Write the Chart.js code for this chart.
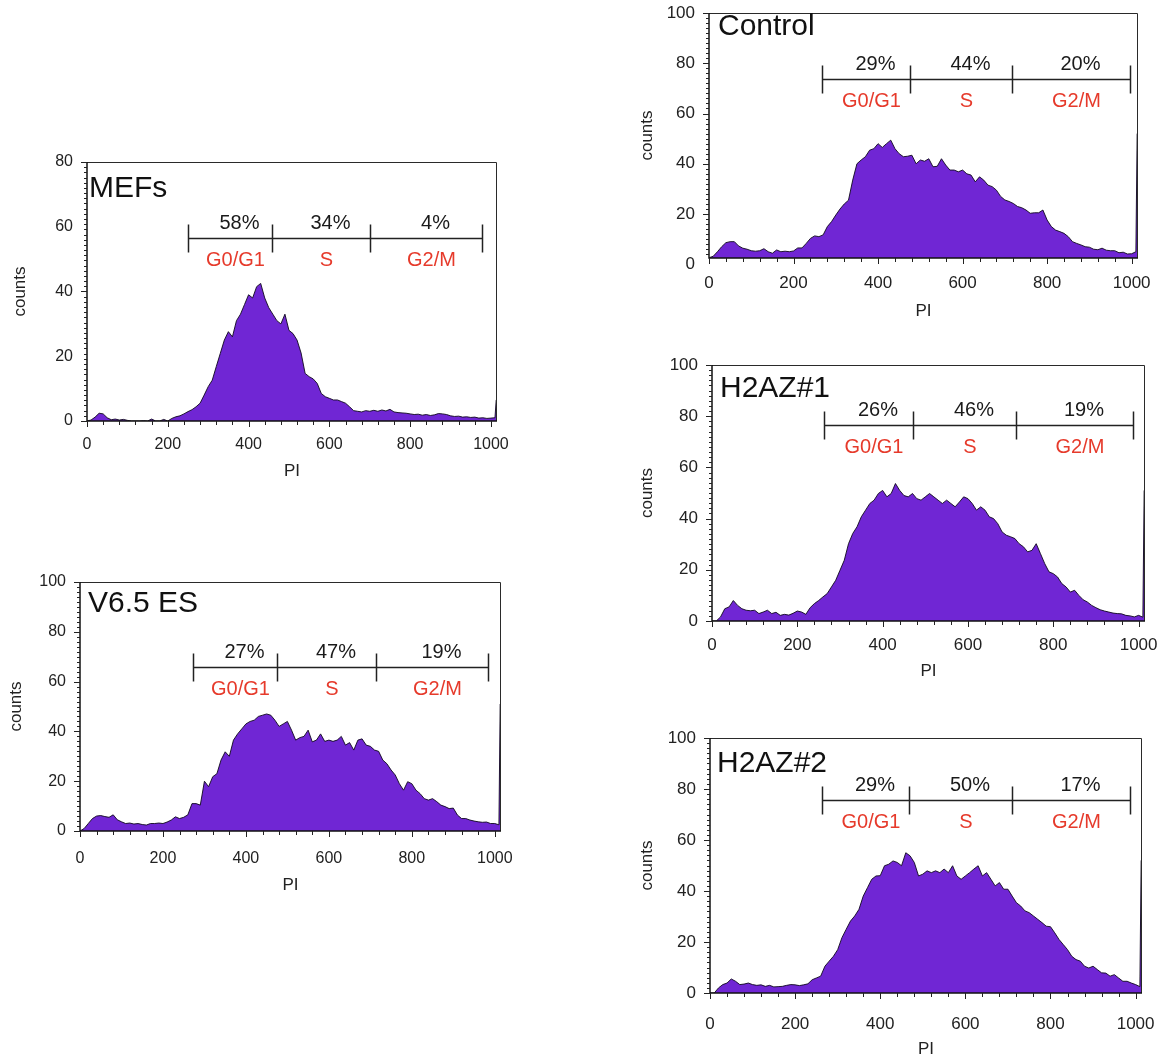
<!DOCTYPE html>
<html>
<head>
<meta charset="utf-8">
<script src="https://cdn.jsdelivr.net/npm/chart.js@4.4.1/dist/chart.umd.min.js"></script>
<style>
  html, body { margin: 0; padding: 0; background: #fff; overflow: hidden; }
  body { width: 1159px; height: 1057px; position: relative; }
  canvas { position: absolute; }
</style>
</head>
<body>
<script>
// ---------- DATA ----------
const BIN = 10;          // counts read every 10 PI channels, starting at channel 0
const CH_MAX = 1015;     // right end of the PI axis
const SPIKE_CH = 1013;   // last channel pile-up
const PHASES = ['G0/G1', 'S', 'G2/M'];
const X_TICKS = [0, 200, 400, 600, 800, 1000];
const Y_TICKS_80 = [0, 20, 40, 60, 80];
const Y_TICKS_100 = [0, 20, 40, 60, 80, 100];

const MEFS_COUNTS = [0,0.3,1.2,2.4,2.2,1.0,0.4,0.6,0.3,0.5,0.2,0,0,0,0.1,0,0.6,0,0,0.5,
  0,0.8,1.3,1.6,2.2,2.9,3.5,4.4,5.5,8,10.6,12.6,16.8,20.9,25,27.6,26,31,33,36,
  39,38,41.5,42.5,38,35,33,31,30,33,28,27,25,21,14.7,13.7,13,11.6,8.5,7.5,
  7,6.5,6.5,6,5.5,4.4,3.2,3,2.8,3.2,3,3.3,3,3.4,3.1,3.6,2.8,2.6,2.5,2.4,
  2.2,2,2.1,1.8,2,1.7,1.9,2.3,2.2,2,1.6,1.4,1.5,1.2,1.3,1.1,1.2,0.9,1,0.8,0.9,1];
const MEFS_SPIKE = 6.5;
const MEFS_PCT = ['58%', '34%', '4%'];
const MEFS_GATES = [249, 457, 700, 979];
const MEFS_BRACKET = 56.6;

const V65_COUNTS = [0,1,3,5,6,6.2,5.8,5.5,6.5,4.5,3.7,3,3.2,2.8,3,2.6,2.4,3,3,3.2,
  3,3.6,4.4,5.7,5,5.5,6.5,11,11,10.4,20,17.8,21.8,23,28.5,31.8,30,36.5,39,41,
  43,44,44.5,46,46.5,47,46.5,44.5,42,43,44,40.5,36.5,37.5,38,40.5,35.8,36.5,39,36,
  36.5,36,36.5,38,34.5,35.5,32.5,36.5,37,34.5,34,32.5,32,28.5,27,24.5,22.5,19,16.4,19.8,
  19,16.4,15,13,12.4,13,11.8,10.4,9.8,9,9.2,6.4,5,5,4.4,4,3.7,3.5,3.6,3,3,2.5];
const V65_SPIKE = 51;
const V65_PCT = ['27%', '47%', '19%'];
const V65_GATES = [272, 474, 714, 984];
const V65_BRACKET = 66;

const CTRL_COUNTS = [2.6,3.2,5,7,8.6,9,9,7.3,6.4,6,5.4,5.2,5.4,6.2,5,4.4,5.7,5,5.2,5,
  5.3,6.5,6.5,8.3,10.3,11.3,11,11.7,15,17,19.6,22,24,25.5,33.5,40,41.5,42.8,45.4,46,
  48,46.5,48,49.4,46,44,42.8,43,43.4,40,41.5,41,42,38.8,39,42,39.5,37.5,37.5,36.8,
  37.5,36,35.5,32.8,34.8,33.5,31.5,30.9,29.5,27,25.6,25,24.2,23,22.5,21.6,20.3,20.5,20.5,21.6,
  17.6,15,13.6,13,12.3,11,9,8.3,7.7,7,6.8,6,5.8,6.4,5.6,5.4,5.4,4.6,4.8,4.1,4.2,5];
const CTRL_SPIKE = 52;
const CTRL_PCT = ['29%', '44%', '20%'];
const CTRL_GATES = [267, 475, 718, 996];
const CTRL_BRACKET = 73.9;

const H1_COUNTS = [0,0,1.6,4.8,5.5,8,6.1,4.8,4.2,4,4.2,2.9,3.5,4.2,2.9,3.4,2.2,2.6,2.3,3,
  3.9,3.5,2.6,5.2,6.8,8,9.4,10.7,13.3,15.9,19.8,23.7,30.2,34.2,36.8,40.7,43.3,45.9,47.2,49.8,
  51,48.5,49.8,53.7,51,49,48.5,49.8,47.8,47.2,48.5,49.8,48.5,47.2,45.9,47.2,45.9,44.6,46.5,48.5,
  47.8,45.9,43.3,44.6,43.3,40.7,40,38,34.8,33.5,32.9,32.2,30.2,29,27,27.6,30.2,26.3,22.4,19.2,
  18.5,17.2,14.6,13.3,11.3,12,10,8.3,7.4,6.1,5.2,4.4,3.9,3.5,3.1,2.9,2.8,2.2,2,1.6,2.2,1.5];
const H1_SPIKE = 51;
const H1_PCT = ['26%', '46%', '19%'];
const H1_GATES = [263, 470, 712, 986];
const H1_BRACKET = 76.6;

const H2_COUNTS = [0,0,2,3.3,3.9,5.5,4.6,3.3,3.5,3.9,3.3,3,3.2,2.6,3,2.4,2.5,2.6,3,3.3,
  3.2,2.9,3.2,3.6,5.2,5.9,6.6,10.5,12.5,14.4,17,21.7,25,28.2,30.2,32.8,38,41.3,44.6,45.9,
  46,49.9,50.5,51.8,51.2,49.9,55,53.8,51.2,45.9,46.6,47.9,47.2,47.9,47.2,48.6,47.2,49.9,45.9,44.6,
  45.9,47.2,48.6,49.9,45.9,47.2,44.6,42,43.3,40.7,40.7,38,35.4,34.1,32.2,31.5,30.2,28.9,27.6,26.2,
  26,23.6,21,19,17,14.4,13.1,12.5,10.5,9.8,10.5,9.2,7.9,7.8,6.6,7.2,5.9,4.6,4.6,3.9,3.3,2.5];
const H2_SPIKE = 52;
const H2_PCT = ['29%', '50%', '17%'];
const H2_GATES = [262, 468, 710, 987];
const H2_BRACKET = 75.7;

// ---------- LAYOUT / STYLE ----------
const FONT = '"Liberation Sans", Arial, Helvetica, sans-serif';
const FILL = 'rgb(112,38,212)';
const RED = '#e63a2b';

const PANELS = [
  { name: 'MEFs', counts: MEFS_COUNTS, spike: MEFS_SPIKE, pct: MEFS_PCT, gates: MEFS_GATES, bracket: MEFS_BRACKET,
    yMin: 0, yMax: 80, yTicks: Y_TICKS_80, yMinor: 1.6,
    L: 87, T: 162, R: 497, B: 421, countsX: 20, piY: 472, xTl: 14, tickSize: 16, padTop: 15, titleDx: 2, titleDy: 35 },
  { name: 'V6.5 ES', counts: V65_COUNTS, spike: V65_SPIKE, pct: V65_PCT, gates: V65_GATES, bracket: V65_BRACKET,
    yMin: 0, yMax: 100, yTicks: Y_TICKS_100, yMinor: 2,
    L: 80, T: 582, R: 501, B: 831, countsX: 16, piY: 886, xTl: 18, tickSize: 16, padTop: 15, titleDx: 8, titleDy: 30 },
  { name: 'Control', counts: CTRL_COUNTS, spike: CTRL_SPIKE, pct: CTRL_PCT, gates: CTRL_GATES, bracket: CTRL_BRACKET,
    yMin: 2.5, yMax: 100, yTicks: Y_TICKS_100, yMinor: 2,
    L: 709, T: 13, R: 1138, B: 258, countsX: 647, piY: 312, xTl: 15, tickSize: 17, padTop: 13, titleDx: 9, titleDy: 22 },
  { name: 'H2AZ#1', counts: H1_COUNTS, spike: H1_SPIKE, pct: H1_PCT, gates: H1_GATES, bracket: H1_BRACKET,
    yMin: 0, yMax: 100, yTicks: Y_TICKS_100, yMinor: 2,
    L: 712, T: 365, R: 1145, B: 621, countsX: 647, piY: 672, xTl: 14, tickSize: 17, padTop: 15, titleDx: 8, titleDy: 32 },
  { name: 'H2AZ#2', counts: H2_COUNTS, spike: H2_SPIKE, pct: H2_PCT, gates: H2_GATES, bracket: H2_BRACKET,
    yMin: 0, yMax: 100, yTicks: Y_TICKS_100, yMinor: 2,
    L: 710, T: 738, R: 1142, B: 993, countsX: 647, piY: 1050, xTl: 21, tickSize: 17, padTop: 15, titleDx: 7, titleDy: 34 }
];

// ---------- decoration plugin (box, minor ticks, panel name, gate brackets) ----------
const deco = {
  id: 'deco',
  afterDraw(chart, args, o) {
    const { ctx, chartArea: a, scales: { x, y } } = chart;
    ctx.save();
    // frame
    ctx.strokeStyle = '#2a2a2a';
    ctx.lineWidth = 1;
    ctx.beginPath();
    ctx.moveTo(a.left, a.top + 0.5); ctx.lineTo(a.right - 0.5, a.top + 0.5); ctx.lineTo(a.right - 0.5, a.bottom);
    ctx.stroke();
    ctx.strokeStyle = '#111';
    ctx.lineWidth = 1.5;
    ctx.beginPath();
    ctx.moveTo(a.left, a.top); ctx.lineTo(a.left, a.bottom); ctx.lineTo(a.right, a.bottom);
    ctx.stroke();
    // y ticks
    ctx.lineWidth = 1;
    ctx.strokeStyle = '#222';
    ctx.beginPath();
    const y0 = Math.ceil(y.min / o.yMinor - 1e-6) * o.yMinor;
    for (let v = y0; v <= y.max + 1e-6; v += o.yMinor) {
      const py = Math.round(y.getPixelForValue(v)) + 0.5;
      const major = Math.abs(v / 20 - Math.round(v / 20)) < 1e-6;
      const len = major ? 6 : 3;
      ctx.moveTo(a.left - len, py); ctx.lineTo(a.left, py);
    }
    // x ticks
    for (let v = 0; v <= x.max; v += 40) {
      const px = Math.round(x.getPixelForValue(v)) + 0.5;
      const len = v % 200 === 0 ? 6 : 4;
      ctx.moveTo(px, a.bottom); ctx.lineTo(px, a.bottom + len);
    }
    ctx.stroke();
    // panel name
    ctx.fillStyle = '#111';
    ctx.font = '30px ' + FONT;
    ctx.textAlign = 'left';
    ctx.textBaseline = 'alphabetic';
    ctx.fillText(o.name, a.left + o.titleDx, a.top + o.titleDy);
    // gate bracket
    const yb = Math.round(y.getPixelForValue(o.bracket)) + 0.5;
    const xs = o.gates.map(g => Math.round(x.getPixelForValue(g)) + 0.5);
    ctx.strokeStyle = '#222';
    ctx.lineWidth = 1.5;
    ctx.beginPath();
    ctx.moveTo(xs[0], yb); ctx.lineTo(xs[3], yb);
    xs.forEach(px => { ctx.moveTo(px, yb - 14); ctx.lineTo(px, yb + 14); });
    ctx.stroke();
    ctx.font = '20px ' + FONT;
    ctx.textAlign = 'center';
    for (let i = 0; i < 3; i++) {
      const cx = (xs[i] + xs[i + 1]) / 2;
      ctx.fillStyle = '#1a1a1a';
      ctx.fillText(o.pct[i], cx + 9, yb - 10);
      ctx.fillStyle = RED;
      ctx.fillText(PHASES[i], cx + 5, yb + 27);
    }
    ctx.restore();
  }
};

PANELS.forEach(p => {
  const left = Math.round(p.countsX - 10);
  const top = p.T - p.padTop;
  const width = p.R + 25 - left;
  const height = Math.round(p.piY + 10) - top;
  const canvas = document.createElement('canvas');
  canvas.width = width; canvas.height = height;
  canvas.style.left = left + 'px'; canvas.style.top = top + 'px';
  canvas.style.width = width + 'px'; canvas.style.height = height + 'px';
  document.body.appendChild(canvas);

  const points = p.counts.map((v, i) => ({ x: i * BIN, y: v }));
  points.push({ x: SPIKE_CH, y: p.spike }, { x: CH_MAX, y: p.spike });

  const tickFont = { family: FONT, size: p.tickSize };
  const titleFont = { family: FONT, size: 17 };
  const plain = v => String(v);

  new Chart(canvas, {
    type: 'line',
    data: {
      datasets: [{
        data: points,
        backgroundColor: FILL,
        borderColor: 'rgba(15,8,30,0.9)',
        borderWidth: 1,
        fill: 'origin',
        pointRadius: 0,
        tension: 0
      }]
    },
    options: {
      responsive: false,
      animation: false,
      devicePixelRatio: 1,
      layout: { padding: { left: 0, top: p.padTop, right: 25, bottom: 0 } },
      plugins: {
        legend: { display: false },
        tooltip: { enabled: false },
        deco: { name: p.name, pct: p.pct, gates: p.gates, bracket: p.bracket, yMinor: p.yMinor,
                titleDx: p.titleDx, titleDy: p.titleDy }
      },
      scales: {
        x: {
          type: 'linear', min: 0, max: CH_MAX,
          afterBuildTicks: s => { s.ticks = X_TICKS.map(v => ({ value: v })); },
          afterFit: s => { s.height = height - (p.B - top); },
          ticks: { padding: 0, font: tickFont, color: '#222', maxRotation: 0, autoSkip: false, includeBounds: false, callback: plain },
          grid: { display: true, drawOnChartArea: false, drawTicks: true, tickLength: p.xTl, color: 'rgba(0,0,0,0)' },
          border: { display: false },
          title: { display: true, text: 'PI', font: titleFont, color: '#222', padding: 0 }
        },
        y: {
          type: 'linear', min: p.yMin, max: p.yMax, bounds: 'data',
          afterBuildTicks: s => { s.ticks = p.yTicks.map(v => ({ value: v })); },
          afterFit: s => { s.width = p.L - left; },
          ticks: { padding: 0, font: tickFont, color: '#222', autoSkip: false, includeBounds: false, callback: plain },
          grid: { display: true, drawOnChartArea: false, drawTicks: true, tickLength: 14, color: 'rgba(0,0,0,0)' },
          border: { display: false },
          title: { display: true, text: 'counts', font: titleFont, color: '#222', padding: 0 }
        }
      }
    },
    plugins: [deco]
  });
});
</script>
</body>
</html>
